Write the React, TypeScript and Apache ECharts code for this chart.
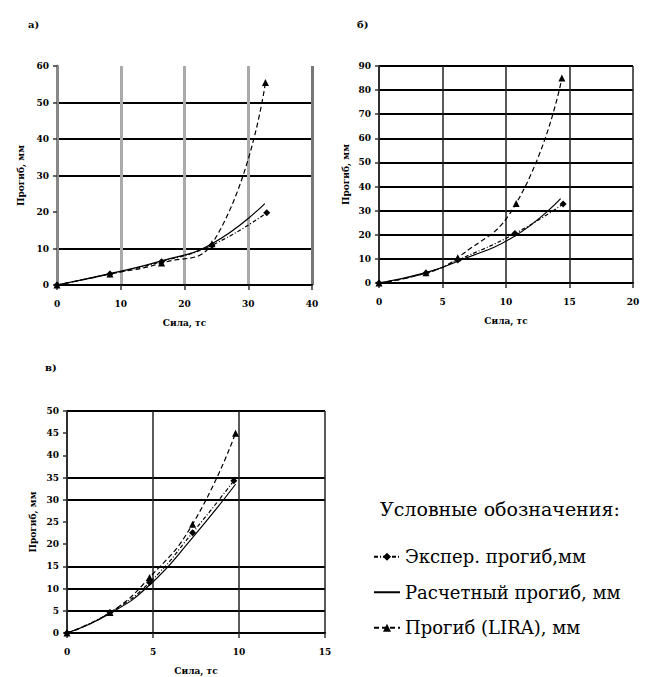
import React, { useEffect, useRef } from "react";
import * as echarts from "echarts";

// ---- Data (force, tf  /  deflection, mm) ----
// Panel а)
const forceA_exp = [0, 8.3, 16.4, 24.3, 32.9];
const defA_exp = [0, 3, 6.4, 10.9, 19.8];
const forceA_calc = [0, 8.3, 16.4, 24.3, 32.6];
const defA_calc = [0, 3.1, 6.6, 11.3, 22.3];
const forceA_lira = [0, 8.3, 16.4, 24.3, 32.7];
const defA_lira = [0, 3, 6, 11.3, 55.5];
// Panel б)
const forceB_exp = [0, 3.7, 6.2, 10.7, 14.5];
const defB_exp = [0, 4.1, 9.5, 20.5, 32.8];
const forceB_calc = [0, 3.7, 6.2, 10.7, 14.3];
const defB_calc = [0, 4.3, 9, 19.5, 35];
const forceB_lira = [0, 3.7, 6.2, 10.8, 14.4];
const defB_lira = [0, 4.2, 10.5, 33, 85];
// Panel в)
const forceV_exp = [0, 2.5, 4.8, 7.3, 9.7];
const defV_exp = [0, 4.6, 11.4, 22.6, 34.3];
const forceV_calc = [0, 2.5, 4.8, 7.3, 9.8];
const defV_calc = [0, 4.4, 10.8, 21.5, 33.5];
const forceV_lira = [0, 2.5, 4.8, 7.3, 9.8];
const defV_lira = [0, 4.6, 12.5, 24.5, 45];

const seriesNames = ["Экспер. прогиб,мм", "Расчетный прогиб, мм", "Прогиб (LIRA), мм"];
const panelLabels = ["а)", "б)", "в)"];
const xName = "Сила, тс";
const yName = "Прогиб, мм";
const legendTitle = "Условные обозначения:";

const zip = (xs: number[], ys: number[]) => xs.map((x, i) => [x, ys[i]]);

const SERIF = "DejaVu Serif";

export default function App() {
  const ref = useRef<HTMLDivElement>(null);
  useEffect(() => {
    if (!ref.current) return;
    const chart = echarts.init(ref.current, undefined, { renderer: "svg" });

    const labelStyle = { color: "#000", fontFamily: SERIF, fontSize: 9, fontWeight: "bold" as const };
    const nameStyle = { color: "#000", fontFamily: SERIF, fontSize: 9, fontWeight: "bold" as const };

    const mkX = (gi: number, max: number, interval: number, splitColors: string[], splitWidth: number, axisColor: string) => ({
      type: "value",
      gridIndex: gi,
      min: 0,
      max,
      interval,
      name: xName,
      nameLocation: "middle",
      nameGap: 33,
      nameTextStyle: nameStyle,
      axisLine: { show: true, onZero: false, lineStyle: { color: axisColor, width: 2 } },
      axisTick: { show: true, inside: false, length: 5, lineStyle: { color: "#333", width: 1.5 } },
      axisLabel: { ...labelStyle, margin: 14 },
      splitLine: { show: true, lineStyle: { color: splitColors, width: splitWidth } },
    });
    const mkY = (gi: number, max: number, interval: number, splitColors: string[], axisColor: string, axisWidth: number, nameGap: number) => ({
      type: "value",
      gridIndex: gi,
      min: 0,
      max,
      interval,
      name: yName,
      nameLocation: "middle",
      nameGap,
      nameRotate: 90,
      nameTextStyle: nameStyle,
      axisLine: { show: true, onZero: false, lineStyle: { color: axisColor, width: axisWidth } },
      axisTick: { show: true, inside: false, length: 4, lineStyle: { color: "#333", width: 1.5 } },
      axisLabel: { ...labelStyle, margin: 8 },
      splitLine: { show: true, lineStyle: { color: splitColors, width: 2 } },
    });

    const T = "rgba(0,0,0,0)";
    const K = "#000";

    const expStyle = (xi: number, data: number[][]) => ({
      name: seriesNames[0],
      type: "line",
      xAxisIndex: xi,
      yAxisIndex: xi,
      data,
      smooth: true,
      symbol: "diamond",
      symbolSize: 7,
      itemStyle: { color: "#000" },
      lineStyle: { color: "#000", width: 1.2, type: [4, 2, 1, 2] },
      z: 4,
    });
    const calcStyle = (xi: number, data: number[][]) => ({
      name: seriesNames[1],
      type: "line",
      xAxisIndex: xi,
      yAxisIndex: xi,
      data,
      smooth: true,
      symbol: "none",
      itemStyle: { color: "#000" },
      lineStyle: { color: "#000", width: 1.2, type: "solid" },
      z: 3,
    });
    const liraStyle = (xi: number, data: number[][]) => ({
      name: seriesNames[2],
      type: "line",
      xAxisIndex: xi,
      yAxisIndex: xi,
      data,
      smooth: true,
      symbol: "triangle",
      symbolSize: 7,
      itemStyle: { color: "#000" },
      lineStyle: { color: "#000", width: 1.2, type: [5, 3] },
      z: 5,
    });

    const option = {
      animation: false,
      backgroundColor: "#fff",
      grid: [
        { left: 57, top: 66, width: 255, height: 219 },
        { left: 379, top: 66, width: 254, height: 217 },
        { left: 67, top: 411, width: 258, height: 222 },
      ],
      xAxis: [
        mkX(0, 40, 10, ["#888", "#aaa", "#aaa", "#aaa", "#777"], 3, "#000"),
        mkX(1, 20, 5, ["#222"], 1.5, "#000"),
        mkX(2, 15, 5, ["#222"], 1.5, "#000"),
      ],
      yAxis: [
        mkY(0, 60, 10, [K, K, T, K, K, K, T], "#888", 3, 32),
        mkY(1, 90, 10, [K], "#222", 1.5, 29),
        mkY(2, 50, 5, [K, K, K, K, T, T, K, K, T, T, K], "#222", 1.5, 30),
      ],
      legend: {
        show: true,
        orient: "vertical",
        left: 368,
        top: 541,
        itemWidth: 26,
        itemHeight: 10,
        itemGap: 14,
        data: [
          { name: seriesNames[0] },
          { name: seriesNames[1], itemStyle: { color: T, borderColor: T, borderWidth: 0 } },
          { name: seriesNames[2] },
        ],
        textStyle: { color: "#000", fontFamily: SERIF, fontSize: 18, lineHeight: 21.5 },
      },
      graphic: [
        { type: "text", left: 28, top: 19, style: { text: panelLabels[0], fill: "#000", fontFamily: SERIF, fontSize: 10, fontWeight: "bold" } },
        { type: "text", left: 357, top: 19, style: { text: panelLabels[1], fill: "#000", fontFamily: SERIF, fontSize: 10, fontWeight: "bold" } },
        { type: "text", left: 45, top: 362, style: { text: panelLabels[2], fill: "#000", fontFamily: SERIF, fontSize: 10, fontWeight: "bold" } },
        { type: "text", left: 380, top: 499, style: { text: legendTitle, fill: "#000", fontFamily: SERIF, fontSize: 19 } },
      ],
      series: [
        expStyle(0, zip(forceA_exp, defA_exp)),
        calcStyle(0, zip(forceA_calc, defA_calc)),
        liraStyle(0, zip(forceA_lira, defA_lira)),
        expStyle(1, zip(forceB_exp, defB_exp)),
        calcStyle(1, zip(forceB_calc, defB_calc)),
        liraStyle(1, zip(forceB_lira, defB_lira)),
        expStyle(2, zip(forceV_exp, defV_exp)),
        calcStyle(2, zip(forceV_calc, defV_calc)),
        liraStyle(2, zip(forceV_lira, defV_lira)),
      ],
    };
    chart.setOption(option as any);
    return () => chart.dispose();
  }, []);
  return (
    <div
      ref={ref}
      style={{ position: "absolute", left: 0, top: 0, width: 651, height: 677, background: "#fff" }}
    />
  );
}
